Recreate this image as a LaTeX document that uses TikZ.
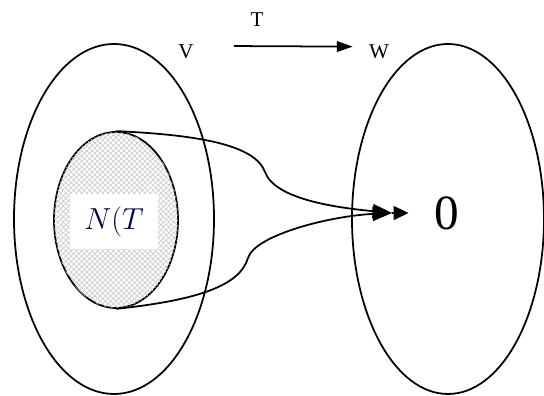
\documentclass[tikz,border=0pt]{standalone}
\usepackage{amsmath, amssymb}
\usepackage{fontspec}
\newfontfamily\labelfont{Liberation Serif}
\usetikzlibrary{shapes.geometric, patterns, arrows.meta}

\tikzset{
  bigset/.style={draw, ellipse, line width=1pt, inner sep=0pt, minimum height=7cm},
  kernset/.style={draw, ellipse, line width=1pt, inner sep=0pt,
    minimum width=2.48cm, minimum height=3.52cm,
    pattern=north east lines, pattern color=gray!40,
    postaction={pattern=north west lines, pattern color=gray!40}},
  maplabel/.style={inner sep=0pt, font=\labelfont\fontsize{12}{14}\selectfont},
  mapcurve/.style={line width=1pt, -{Triangle[length=11pt,width=8pt]}}
}

\begin{document}
\begin{tikzpicture}
  \useasboundingbox (0,0) rectangle (10.88,7.92);

  % The two spaces
  \node[bigset, minimum width=4cm] (vset) at (2.28,3.54) {};
  \node[bigset, minimum width=3.84cm] (wset) at (8.96,3.54) {};

  % Kernel inside V
  \node[kernset] (kernel) at (2.32,3.52) {};
  \node[fill=white, minimum width=1.76cm, minimum height=1.1cm, text=blue!30!black,
    font=\fontsize{18}{20}\selectfont] (klabel) at (2.28,3.48) {$N(T$};

  % Map T from V to W
  \node[maplabel] (vlab) at (3.72,6.88) {V};
  \node[maplabel] (wlab) at (7.58,6.88) {W};
  \node[maplabel] (tlab) at (5.14,7.52) {T};
  \draw[line width=1pt, -{Triangle[length=9pt,width=6pt]}, shorten <=0.8cm, shorten >=0.32cm]
    ([yshift=3.5pt]vlab.east) -- ([yshift=3pt]wlab.west);

  % Everything in the kernel goes to 0
  \node[font=\labelfont\fontsize{28}{30}\selectfont] (zero) at (8.94,3.66) {0};
  \coordinate (meet) at (7.84,3.66);
  \draw[mapcurve] (kernel.north) .. controls (4.0,5.22) and (5.1,5.02) .. (5.3,4.48)
    .. controls (5.5,3.92) and (6.8,3.76) .. (meet);
  \draw[mapcurve] (kernel.south) .. controls (4.0,1.92) and (4.8,2.22) .. (4.96,2.76)
    .. controls (5.1,3.22) and (6.6,3.6) .. (meet);
  \draw[line width=1pt, -{Triangle[length=8.5pt,width=8pt]}, shorten >=0.4cm]
    (meet) -- (zero.west);
\end{tikzpicture}
\end{document}
